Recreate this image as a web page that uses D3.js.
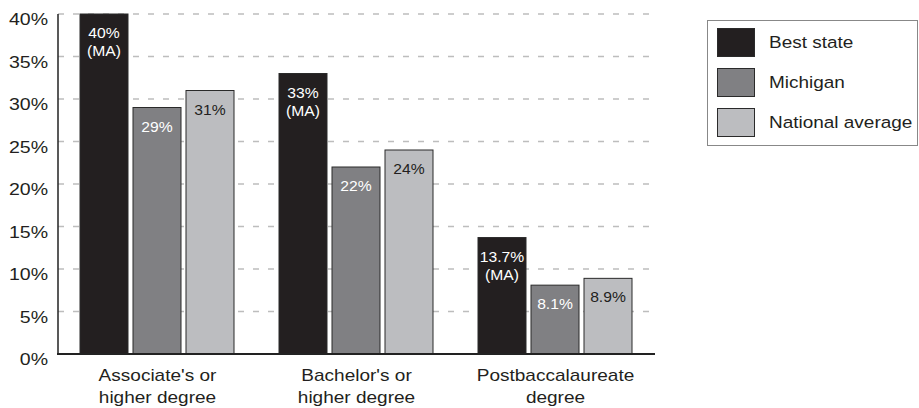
<!DOCTYPE html>
<html><head><meta charset="utf-8">
<script src="https://cdn.jsdelivr.net/npm/d3@7"></script>
<style>body{margin:0;background:#fff}svg{display:block;font-family:"Liberation Sans",Arial,sans-serif}</style>
</head><body>
<svg id="c" width="919" height="408"></svg>
<script>
const categories = [["Associate's or","higher degree"],["Bachelor's or","higher degree"],["Postbaccalaureate","degree"]];
const seriesNames = ["Best state","Michigan","National average"];
const bestState = [40, 33, 13.7];
const michigan = [29, 22, 8.1];
const national = [31, 24, 8.9];
const bestLabels = [["40%","(MA)"],["33%","(MA)"],["13.7%","(MA)"]];
const michiganLabels = [["29%"],["22%"],["8.1%"]];
const nationalLabels = [["31%"],["24%"],["8.9%"]];
const yTicks = [0,5,10,15,20,25,30,35,40];

const colors = ["#231f20","#808083","#bcbdc0"];
const labelColors = ["#fff","#fff","#231f20"];
const values = [bestState, michigan, national];
const labels = [bestLabels, michiganLabels, nationalLabels];

const svg = d3.select("#c");
const y = d3.scaleLinear().domain([0,40]).range([354,14]);
const x = d3.scaleBand().domain(d3.range(categories.length)).range([58,655]);
const xs = d3.scaleBand().domain(d3.range(seriesNames.length)).range([22,176]).paddingInner(5/53);

// gridlines
svg.append("g").selectAll("line").data(yTicks.filter(d=>d>0)).join("line")
  .attr("x1",58).attr("x2",655).attr("y1",d=>y(d)).attr("y2",d=>y(d))
  .attr("stroke","#bdbdbd").attr("stroke-width",1.5).attr("stroke-dasharray","6,9");

// bars
const data = [];
categories.forEach((c,ci)=>seriesNames.forEach((s,si)=>data.push({ci,si,v:values[si][ci],lab:labels[si][ci]})));
svg.append("g").selectAll("rect").data(data).join("rect")
  .attr("x",d=>x(d.ci)+xs(d.si)).attr("width",xs.bandwidth())
  .attr("y",d=>y(d.v)).attr("height",d=>y(0)-y(d.v))
  .attr("fill",d=>colors[d.si]).attr("stroke","#2a2a2a").attr("stroke-width",1);

// bar labels
data.forEach(d=>{
  const cx = x(d.ci)+xs(d.si)+xs.bandwidth()/2;
  d.lab.forEach((t,i)=>{
    svg.append("text").attr("transform",`translate(${cx},${y(d.v)+24+i*18}) scale(1.08,1)`)
      .attr("text-anchor","middle").attr("font-size",14.5).attr("fill",labelColors[d.si]).text(t);
  });
});

// axes
svg.append("line").attr("x1",58).attr("x2",58).attr("y1",y(40)).attr("y2",y(0)).attr("stroke","#222").attr("stroke-width",1.5);
svg.append("line").attr("x1",57).attr("x2",655).attr("y1",y(0)).attr("y2",y(0)).attr("stroke","#222").attr("stroke-width",2);

// y tick labels
yTicks.forEach(t=>{
  svg.append("text").attr("transform",`translate(48,${y(t)+11}) scale(1.15,1)`)
    .attr("text-anchor","end").attr("font-size",17).attr("fill","#231f20").text(t+"%");
});

// x labels
categories.forEach((c,ci)=>{
  c.forEach((t,i)=>{
    svg.append("text").attr("transform",`translate(${x(ci)+x.bandwidth()/2},${381+i*22}) scale(1.12,1)`)
      .attr("text-anchor","middle").attr("font-size",17).attr("fill","#231f20").text(t);
  });
});

// legend
const lg = svg.append("g");
lg.append("rect").attr("x",707.5).attr("y",20.5).attr("width",210).attr("height",125)
  .attr("fill","#fff").attr("stroke","#888").attr("stroke-width",1);
seriesNames.forEach((s,i)=>{
  lg.append("rect").attr("x",717.5).attr("y",28.5+i*40).attr("width",37).attr("height",28)
    .attr("fill",colors[i]).attr("stroke","#2a2a2a").attr("stroke-width",1);
  lg.append("text").attr("transform",`translate(769,${48+i*40}) scale(1.15,1)`)
    .attr("font-size",16.5).attr("fill","#231f20").text(s);
});
</script>
</body></html>
